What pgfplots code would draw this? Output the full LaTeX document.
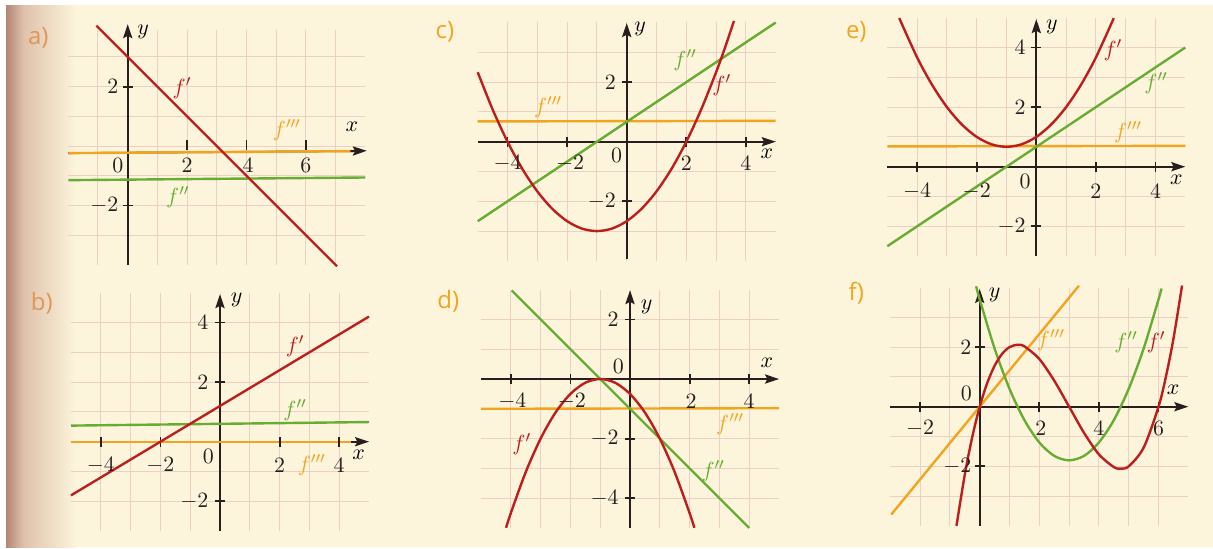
\documentclass[border=0pt]{standalone}
\usepackage{fontspec}
\usepackage{pgfplots}
\pgfplotsset{compat=1.18}
\usetikzlibrary{arrows.meta}
\newfontfamily\panelfont{Open Sans}

\definecolor{cream}{RGB}{252,245,220}
\definecolor{gridc}{RGB}{236,208,198}
\definecolor{axc}{RGB}{40,30,30}
\definecolor{fred}{RGB}{188,30,28}
\definecolor{fgreen}{RGB}{104,172,52}
\definecolor{forange}{RGB}{242,164,32}
\definecolor{dimorange}{RGB}{222,150,90}
\definecolor{shadowA}{RGB}{178,134,118}
\definecolor{shadowB}{RGB}{224,194,172}

\pgfplotsset{
  panel/.style={
    anchor=south west, x=14.9pt, y=14.9pt, enlargelimits=false, clip=false,
    axis line style={draw=none}, tick style={draw=none},
    xticklabels={}, yticklabels={}, grid=major,
    grid style={draw=gridc, line width=0.5pt},
  },
}
\tikzset{
  axl/.style={draw=axc, line width=0.9pt},
  arr/.style={axl, -{Stealth[length=7pt,width=4.6pt,inset=1.2pt]}},
  cur/.style={line width=1.2pt, no markers},
  num/.style={font=\fontsize{10.5}{12}\selectfont, inner sep=0pt, text=axc},
  lbl/.style={font=\fontsize{11}{13}\selectfont, inner sep=0pt},
  pl/.style={font=\panelfont\fontsize{12}{14}\selectfont, text=forange, inner sep=0pt},
}
% tick marks, half length 0.17 axis units
\newcommand{\xticks}[1]{\pgfplotsinvokeforeach{#1}{\draw[axl] (axis cs:##1,-0.17) -- (axis cs:##1,0.17);}}
\newcommand{\yticks}[1]{\pgfplotsinvokeforeach{#1}{\draw[axl] (axis cs:-0.17,##1) -- (axis cs:0.17,##1);}}

\begin{document}
\begin{tikzpicture}
\useasboundingbox (0,0) rectangle (606.5pt,274pt);
\fill[white] (0,0) rectangle (606.5pt,274pt);
\fill[cream] (3pt,0.5pt) rectangle (606.5pt,271.5pt);
\shade[left color=shadowA, right color=shadowB] (3pt,0.5pt) rectangle (12pt,271.5pt);
\shade[left color=shadowB, right color=cream] (12pt,0.5pt) rectangle (38pt,271.5pt);

% panel letters
\node[pl, text=dimorange] at (19.15pt,254.85pt) {a)};
\node[pl, text=dimorange] at (20.85pt,122.35pt) {b)};
\node[pl] at (222.5pt,258.15pt) {c)};
\node[pl] at (224.15pt,123.15pt) {d)};
\node[pl] at (428.15pt,258.15pt) {e)};
\node[pl] at (428.15pt,127.35pt) {f)};

% a)
\begin{axis}[panel, at={(34.15pt,141.6pt)}, x=14.85pt, y=14.85pt,
  xmin=-2, xmax=8, ymin=-4, ymax=3.9, xtick={-1,...,7}, ytick={-3,...,3}]
\draw[arr] (axis cs:0,-4) -- (axis cs:0,4.1);
\draw[axl] (axis cs:-2,-0.24) -- (axis cs:7.8,-0.17);
\addplot[cur, fgreen] coordinates {(-2,-1.15) (8,-1.06)};
\addplot[cur, forange] coordinates {(-2,-0.24) (7.7,-0.17)};
\draw[arr] (axis cs:7.5,-0.17) -- (axis cs:8.05,-0.16);
\addplot[cur, fred] coordinates {(-1.05,4.05) (7.05,-4.05)};
\pgfplotsinvokeforeach{2,4,6}{\draw[axl] (axis cs:#1,-0.13) -- (axis cs:#1,0.2);}
\yticks{2,-2}
\node[num] at (axis cs:-0.33,-0.64) {$0$};
\node[num] at (axis cs:2,-0.64) {$2$};
\node[num] at (axis cs:4.05,-0.64) {$4$};
\node[num] at (axis cs:6,-0.64) {$6$};
\node[num, anchor=east] at (axis cs:-0.3,2) {$2$};
\node[num, anchor=east] at (axis cs:-0.3,-2) {$-2$};
\node[lbl] at (axis cs:0.52,3.84) {$y$};
\node[lbl] at (axis cs:7.55,0.64) {$x$};
\node[lbl, text=fred] at (axis cs:1.83,1.95) {$f'$};
\node[lbl, text=forange] at (axis cs:5.36,0.54) {$f'''$};
\node[lbl, text=fgreen] at (axis cs:1.69,-1.72) {$f''$};
\end{axis}

% c)
\begin{axis}[panel, at={(238.85pt,143.55pt)},
  xmin=-5, xmax=5, ymin=-4, ymax=4, xtick={-4,...,4}, ytick={-3,...,3}]
\draw[arr] (axis cs:-5,0) -- (axis cs:5,0);
\draw[arr] (axis cs:0,-3.95) -- (axis cs:0,3.98);
\xticks{-4,-2,2,4}
\yticks{2,-2}
\addplot[cur, forange] coordinates {(-5,0.68) (5,0.7)};
\addplot[cur, fgreen] coordinates {(-5,-2.667) (5,4)};
\addplot[cur, fred, smooth] coordinates {
  (-5,2.333) (-4.5,1.083) (-4,0) (-3.5,-0.917) (-3,-1.667) (-2.5,-2.25)
  (-2,-2.667) (-1.5,-2.917) (-1,-3) (-0.5,-2.917) (0,-2.667) (0.5,-2.25)
  (1,-1.667) (1.5,-0.917) (2,0) (2.5,1.083) (3,2.333) (3.3,3.163) (3.6,4.053)};
\node[num] at (axis cs:-4,-0.73) {$-4$};
\node[num] at (axis cs:-1.9,-0.73) {$-2$};
\node[num] at (axis cs:2,-0.73) {$2$};
\node[num] at (axis cs:4,-0.73) {$4$};
\node[num] at (axis cs:-0.34,-0.45) {$0$};
\node[num, anchor=east] at (axis cs:-0.35,2) {$2$};
\node[num, anchor=east] at (axis cs:-0.35,-2) {$-2$};
\node[lbl] at (axis cs:4.7,-0.41) {$x$};
\node[lbl] at (axis cs:0.45,3.8) {$y$};
\node[lbl, text=fgreen] at (axis cs:1.96,2.74) {$f''$};
\node[lbl, text=fred] at (axis cs:3.19,1.9) {$f'$};
\node[lbl, text=forange] at (axis cs:-2.64,1.16) {$f'''$};
\end{axis}

% e)
\begin{axis}[panel, at={(443.65pt,145.95pt)},
  xmin=-5, xmax=5, ymin=-3, ymax=5, xtick={-4,...,4}, ytick={-2,...,4}]
\draw[arr] (axis cs:-5,0) -- (axis cs:5,0);
\draw[arr] (axis cs:0,-3) -- (axis cs:0,4.95);
\xticks{-4,-2,2,4}
\yticks{4,2,-2}
\addplot[cur, forange] coordinates {(-5,0.68) (5,0.7)};
\addplot[cur, fgreen] coordinates {(-5,-2.667) (5,4)};
\addplot[cur, fred, smooth] coordinates {
  (-4.6,4.987) (-4,3.667) (-3.5,2.75) (-3,2) (-2.5,1.417) (-2,1)
  (-1.5,0.75) (-1,0.667) (-0.5,0.75) (0,1) (0.5,1.417) (1,2) (1.5,2.75)
  (2,3.667) (2.6,4.987)};
\node[num] at (axis cs:-4,-0.84) {$-4$};
\node[num] at (axis cs:-2,-0.84) {$-2$};
\node[num] at (axis cs:2,-0.84) {$2$};
\node[num] at (axis cs:4,-0.84) {$4$};
\node[num] at (axis cs:-0.38,-0.5) {$0$};
\node[num, anchor=east] at (axis cs:-0.35,4) {$4$};
\node[num, anchor=east] at (axis cs:-0.35,2) {$2$};
\node[num, anchor=east] at (axis cs:-0.35,-2) {$-2$};
\node[lbl] at (axis cs:4.7,-0.45) {$x$};
\node[lbl] at (axis cs:0.52,4.7) {$y$};
\node[lbl, text=fred] at (axis cs:2.57,3.92) {$f'$};
\node[lbl, text=fgreen] at (axis cs:4.02,2.81) {$f''$};
\node[lbl, text=forange] at (axis cs:3.08,1.16) {$f'''$};
\end{axis}

% b)
\begin{axis}[panel, at={(35.5pt,8.45pt)},
  xmin=-5, xmax=5, ymin=-3, ymax=5, xtick={-4,...,4}, ytick={-2,...,4}]
\draw[arr] (axis cs:0,-3) -- (axis cs:0,4.95);
\draw[axl] (axis cs:-5,0) -- (axis cs:4.8,0);
\addplot[cur, fgreen] coordinates {(-5,0.54) (5,0.66)};
\addplot[cur, forange] coordinates {(-5,0) (4.7,0)};
\draw[arr] (axis cs:4.4,0) -- (axis cs:5,0);
\xticks{-4,-2,2,4}
\yticks{4,2,-2}
\addplot[cur, fred] coordinates {(-5,-1.8) (5,4.2)};
\node[num] at (axis cs:-4,-0.78) {$-4$};
\node[num] at (axis cs:-2,-0.78) {$-2$};
\node[num] at (axis cs:2,-0.78) {$2$};
\node[num] at (axis cs:4,-0.78) {$4$};
\node[num] at (axis cs:-0.39,-0.5) {$0$};
\node[num, anchor=east] at (axis cs:-0.38,4) {$4$};
\node[num, anchor=east] at (axis cs:-0.38,2) {$2$};
\node[num, anchor=east] at (axis cs:-0.38,-2) {$-2$};
\node[lbl] at (axis cs:4.65,-0.45) {$x$};
\node[lbl] at (axis cs:0.56,4.75) {$y$};
\node[lbl, text=fred] at (axis cs:2.52,3.19) {$f'$};
\node[lbl, text=fgreen] at (axis cs:2.52,1.06) {$f''$};
\node[lbl, text=forange] at (axis cs:3.08,-0.78) {$f'''$};
\end{axis}

% d)
\begin{axis}[panel, at={(240.5pt,10pt)},
  xmin=-5, xmax=5, ymin=-5, ymax=3, xtick={-4,...,4}, ytick={-4,...,2}]
\draw[arr] (axis cs:-5,0) -- (axis cs:5,0);
\draw[arr] (axis cs:0,-5) -- (axis cs:0,2.98);
\xticks{-4,-2,2,4}
\yticks{2,-2,-4}
\addplot[cur, forange] coordinates {(-5,-1) (5,-0.98)};
\addplot[cur, fgreen] coordinates {(-3.97,2.97) (4,-5)};
\addplot[cur, fred, smooth] coordinates {
  (-4.16,-4.993) (-4,-4.5) (-3.5,-3.125) (-3,-2) (-2.5,-1.125) (-2,-0.5)
  (-1.5,-0.125) (-1,0) (-0.5,-0.125) (0,-0.5) (0.5,-1.125) (1,-2)
  (1.5,-3.125) (2,-4.5) (2.16,-4.993)};
\node[num] at (axis cs:-3.95,-0.76) {$-4$};
\node[num] at (axis cs:-1.95,-0.76) {$-2$};
\node[num] at (axis cs:2.05,-0.76) {$2$};
\node[num] at (axis cs:4,-0.76) {$4$};
\node[num] at (axis cs:-0.39,0.41) {$0$};
\node[num, anchor=east] at (axis cs:-0.37,2) {$2$};
\node[num, anchor=east] at (axis cs:-0.37,-2) {$-2$};
\node[num, anchor=east] at (axis cs:-0.37,-4) {$-4$};
\node[lbl] at (axis cs:4.59,0.56) {$x$};
\node[lbl] at (axis cs:0.56,2.41) {$y$};
\node[lbl, text=fred] at (axis cs:-3.63,-2.2) {$f'$};
\node[lbl, text=forange] at (axis cs:3.36,-1.53) {$f'''$};
\node[lbl, text=fgreen] at (axis cs:2.79,-3.09) {$f''$};
\end{axis}

% f)
\begin{axis}[panel, at={(445.15pt,11.05pt)},
  xmin=-3, xmax=7, ymin=-4, ymax=4, xtick={-2,...,6}, ytick={-3,...,3}]
\draw[arr] (axis cs:-3,0) -- (axis cs:7,0);
\draw[arr] (axis cs:0,-4) -- (axis cs:0,3.95);
\xticks{-2,2,4,6}
\yticks{2,-2}
\addplot[cur, forange] coordinates {(-2.97,-3.62) (3.33,4.06)};
\addplot[cur, fgreen, smooth] coordinates {
  (-0.12,4.041) (0,3.6) (0.5,1.95) (1,0.6) (1.5,-0.45) (2,-1.2) (2.5,-1.65)
  (3,-1.8) (3.5,-1.65) (4,-1.2) (4.5,-0.45) (5,0.6) (5.5,1.95) (6,3.6) (6.1,3.966)};
\addplot[cur, fred, smooth] coordinates {
  (-0.78,-3.998) (-0.5,-2.275) (-0.25,-1.016) (0,0) (0.25,0.791) (0.5,1.375)
  (0.75,1.772) (1,2) (1.27,2.078) (1.5,2.025) (2,1.6) (2.5,0.875) (3,0)
  (3.5,-0.875) (4,-1.6) (4.5,-2.025) (4.73,-2.078) (5,-2) (5.5,-1.375)
  (6,0) (6.25,1.016) (6.5,2.275) (6.79,4.066)};
\node[num] at (axis cs:-2,-0.73) {$-2$};
\node[num] at (axis cs:2.05,-0.73) {$2$};
\node[num] at (axis cs:4,-0.73) {$4$};
\node[num] at (axis cs:6,-0.73) {$6$};
\node[num] at (axis cs:-0.45,0.45) {$0$};
\node[num, anchor=east] at (axis cs:-0.27,2) {$2$};
\node[num, anchor=east] at (axis cs:-0.27,-2) {$-2$};
\node[lbl] at (axis cs:6.49,0.56) {$x$};
\node[lbl] at (axis cs:0.5,3.75) {$y$};
\node[lbl, text=forange] at (axis cs:2.39,2.24) {$f'''$};
\node[lbl, text=fgreen] at (axis cs:4.91,2.18) {$f''$};
\node[lbl, text=fred] at (axis cs:5.92,2.18) {$f'$};
\end{axis}
\end{tikzpicture}
\end{document}
